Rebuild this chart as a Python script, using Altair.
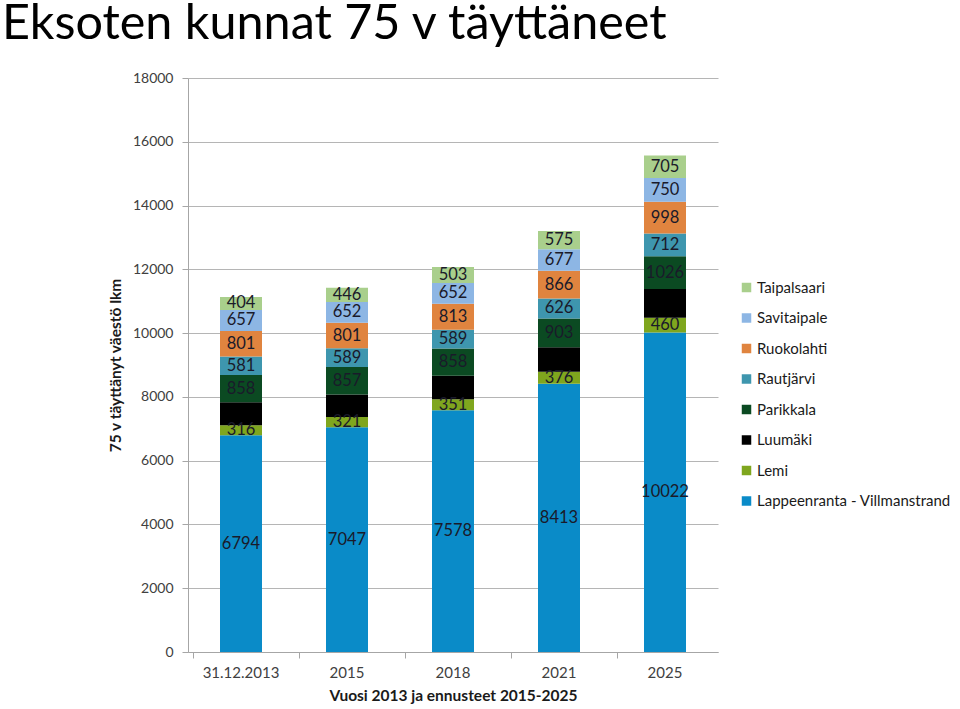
import altair as alt
import pandas as pd

years = ["31.12.2013", "2015", "2018", "2021", "2025"]
series = ["Lappeenranta - Villmanstrand", "Lemi", "Luumäki", "Parikkala",
          "Rautjärvi", "Ruokolahti", "Savitaipale", "Taipalsaari"]
lappeenranta = [6794, 7047, 7578, 8413, 10022]
lemi = [316, 321, 351, 376, 460]
luumaki = [720, 710, 730, 770, 900]
parikkala = [858, 857, 858, 903, 1026]
rautjarvi = [581, 589, 589, 626, 712]
ruokolahti = [801, 801, 813, 866, 998]
savitaipale = [657, 652, 652, 677, 750]
taipalsaari = [404, 446, 503, 575, 705]
colors = ["#0A8BC8", "#7FA61E", "#000000", "#0B4A22",
          "#3E96AE", "#E0843F", "#8DB6E4", "#A9CF8C"]
show_label = [True, True, False, True, True, True, True, True]

values = [lappeenranta, lemi, luumaki, parikkala, rautjarvi, ruokolahti,
          savitaipale, taipalsaari]
rows = []
for i, (s, vals) in enumerate(zip(series, values)):
    for y, v in zip(years, vals):
        rows.append({"year": y, "series": s, "value": v, "idx": i,
                     "lab": show_label[i]})
df = pd.DataFrame(rows)

FONT = "Lato"
legend_domain = series[::-1]
legend_range = colors[::-1]

base = alt.Chart(df).transform_stack(
    stack="value", groupby=["year"], as_=["y0", "y1"],
    sort=[alt.SortField("idx", order="ascending")]
).transform_calculate(mid="(datum.y0 + datum.y1) / 2")

xenc = alt.X("year:N", sort=years, title="Vuosi 2013 ja ennusteet 2015-2025",
             axis=alt.Axis(labelAngle=0, labelFontSize=15, labelColor="#404040",
                           labelFont=FONT, titleFont=FONT, titleFontSize=15.5,
                           titleFontWeight="bold", titleColor="#1a1a1a",
                           tickSize=6, labelPadding=7, titlePadding=8,
                           bandPosition=0, domainColor="#a6a6a6",
                           tickColor="#a6a6a6"))

bars = base.mark_bar(size=42).encode(
    x=xenc,
    y=alt.Y("y0:Q", scale=alt.Scale(domain=[0, 18000], nice=False),
            title="75 v täyttänyt väestö lkm",
            axis=alt.Axis(values=list(range(0, 18001, 2000)), format="d",
                          labelFontSize=14, labelColor="#404040",
                          labelFont=FONT, titleFont=FONT,
                          titleFontSize=15.5, titleFontWeight="bold",
                          titleColor="#1a1a1a", tickSize=6, labelPadding=9,
                          titlePadding=9, gridColor="#b5b5b5",
                          domainColor="#a6a6a6", tickColor="#a6a6a6")),
    y2="y1:Q",
    color=alt.Color("series:N",
                    scale=alt.Scale(domain=legend_domain, range=legend_range),
                    legend=alt.Legend(title=None, orient="none", legendX=551,
                                      legendY=202, labelFontSize=15,
                                      labelFont=FONT, labelColor="#1a1a1a",
                                      labelLimit=0,
                                      symbolType="square", symbolSize=90,
                                      symbolStrokeWidth=0, rowPadding=14.5,
                                      labelOffset=3)),
)

labels = base.transform_filter("datum.lab").mark_text(
    font=FONT, fontSize=16.5, color="#1a1a2a", baseline="middle"
).encode(
    x=alt.X("year:N", sort=years),
    y=alt.Y("mid:Q"),
    text=alt.Text("value:Q", format="d"),
)

chart = alt.layer(bars, labels).properties(
    width=530, height=574,
    title=alt.TitleParams("Eksoten kunnat 75 v täyttäneet", anchor="start",
                          frame="group",
                          font="Lato", fontSize=48.5,
                          fontWeight="normal", color="#000000", dx=-186,
                          offset=22),
    autosize=alt.AutoSizeParams(type="none"),
    padding={"left": 188, "top": 78, "right": 242, "bottom": 57},
).configure_view(stroke=None).configure_axisX(grid=False)

chart.save("out.html", embed_options={"renderer": "svg", "actions": False})
